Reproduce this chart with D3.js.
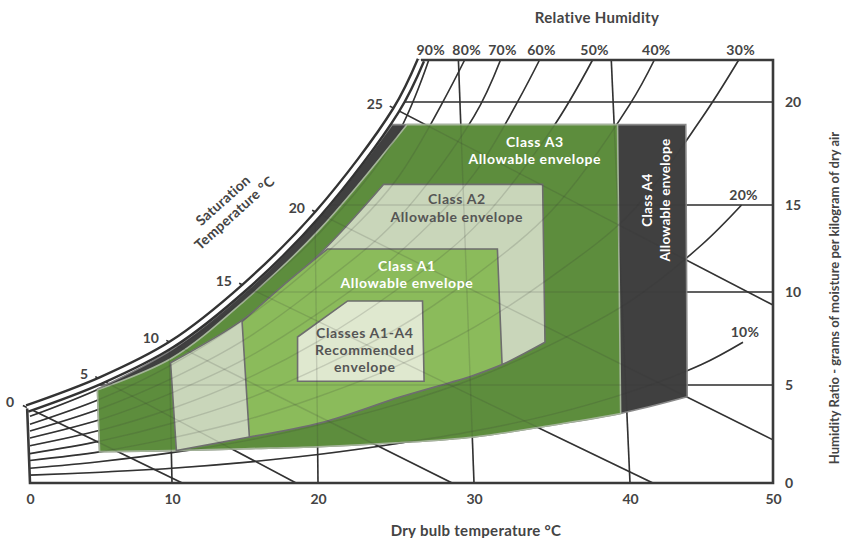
<!DOCTYPE html>
<html>
<head>
<meta charset="utf-8">
<script src="https://cdn.jsdelivr.net/npm/d3@7"></script>
<style>
body { margin: 0; background: #fff; }
text { font-family: Lato, "Open Sans", sans-serif; font-weight: 700; }
</style>
</head>
<body>
<svg width="842" height="538"></svg>
<script>
// axis ticks
const dryTicks = [0, 10, 20, 30, 40, 50];
const wTicks = [0, 5, 10, 15, 20];
const satTicks = [0, 5, 10, 15, 20, 25];

// saturation curve [dry bulb °C, g/kg]
const satCurve = [[-0.2, 3.8], [5, 5.25], [10, 7.2], [15, 10.3], [20, 14.5], [25, 19.6], [26.6, 22]];

// relative humidity curves
const rhNames = ["90%", "80%", "70%", "60%", "50%", "40%", "30%", "20%", "10%"];
const rhCurves = [
    [[0, 3.4], [5, 4.85], [10, 6.85], [15, 9.6], [20, 13.3], [25, 18.3], [27.1, 22]],
    [[0, 3.0], [5, 4.3], [10, 6.1], [15, 8.55], [20, 11.8], [25, 16.2], [29.4, 22]],
    [[0, 2.65], [5, 3.8], [10, 5.35], [15, 7.45], [20, 10.3], [25, 14.1], [30, 19.3], [31.7, 22]],
    [[0, 2.3], [5, 3.25], [10, 4.6], [15, 6.4], [20, 8.85], [25, 12.1], [30, 16.5], [34.2, 22]],
    [[0, 1.9], [5, 2.7], [10, 3.8], [15, 5.3], [20, 7.35], [25, 10.1], [30, 13.7], [35, 18.7], [37.6, 22]],
    [[0, 1.5], [5, 2.15], [10, 3.05], [15, 4.25], [20, 5.9], [25, 8.0], [30, 10.9], [35, 14.7], [40, 19.9], [41.7, 22]],
    [[0, 1.15], [5, 1.6], [10, 2.3], [15, 3.2], [20, 4.4], [25, 6.0], [30, 8.1], [35, 10.9], [40, 14.5], [45, 19.2], [47.6, 22]],
    [[0, 0.75], [5, 1.1], [10, 1.55], [15, 2.15], [20, 2.95], [25, 4.0], [30, 5.35], [35, 7.2], [40, 9.5], [45, 12.7], [47.8, 15]],
    [[0, 0.4], [5, 0.55], [10, 0.75], [15, 1.05], [20, 1.45], [25, 2.0], [30, 2.65], [35, 3.5], [40, 4.65], [45, 6.1], [47.9, 7.3]]
];

// wet bulb lines (start near saturation, end on frame)
const wetStart = [[-0.5, 3.95], [4.6, 5.45], [9.6, 7.4], [14.6, 10.5], [19.6, 14.7], [24.6, 19.8]];
const wetEnd = [[10.7, 0], [18.5, 0], [28.6, 0], [41.6, 0], [50, 2.2], [50, 9.3]];

// dry bulb lines
const dryLines = [[[10, 0], [9.8, 7.1]], [[20, 0], [19.8, 14.3]], [[30, 0], [29.0, 22]], [[40, 0], [38.8, 22]]];

// humidity ratio lines (start on saturation curve)
const wLineStart = [4.1, 14.4, 20.3, 25.3];

// envelopes
const a4Upper = [[4.75, 4.8], [10, 6.9], [15, 10.0], [20, 14.2], [24.75, 18.9]];
const a4Right = [[43.9, 18.9], [44.0, 4.4]];
const a3Upper = [[4.75, 4.75], [10, 6.45], [15, 9.55], [20, 13.5], [25.7, 18.9]];
const a3Right = [[39.2, 18.9], [39.4, 3.55]];
const lowEdge = [[4.9, 1.6], [10, 1.65], [15, 1.75], [20, 1.85], [25, 2.05], [30, 2.35], [35, 2.95], [39.4, 3.55], [44, 4.4]];
const a2Upper = [[9.9, 6.2], [15, 8.6], [20, 12.1], [24.2, 16.0]];
const a2Right = [[34.4, 16.0], [34.55, 7.3]];
const rh20Edge = [[10.3, 1.65], [15.3, 2.35], [20.3, 3.1], [25.3, 4.4], [29.9, 5.5], [31.8, 6.1], [34.55, 7.3]];
const a1Upper = [[14.8, 8.4], [17.5, 10.3], [20.6, 12.47]];
const a1Right = [[31.5, 12.47], [31.8, 6.1]];
const recBox = [[18.6, 7.58], [21.9, 9.52], [26.7, 9.52], [26.8, 5.2], [18.6, 5.2]];

const svg = d3.select("svg");

const x = d3.scaleLinear()
    .domain(dryTicks)
    .range([30, 172, 318, 474, 630, 773]);

const y = d3.scaleLinear()
    .domain([0, 5, 10, 15, 20, 22])
    .range([483, 385, 292, 205, 102, 60]);

const straight = d3.line().x(d => x(d[0])).y(d => y(d[1]));
const smooth = d3.line().x(d => x(d[0])).y(d => y(d[1])).curve(d3.curveCatmullRom.alpha(0.5));

function joinPath(parts) {
    return parts.map((p, i) => i ? p.replace(/^M/, "L") : p).join("") + "Z";
}

const ink = "#333";

function drawGrid(g) {
    g.selectAll(".rh").data(rhCurves).enter().append("path")
        .attr("d", smooth);
    g.selectAll(".wb").data(wetStart).enter().append("path")
        .attr("d", (d, i) => straight([d, wetEnd[i]]));
    g.selectAll(".db").data(dryLines).enter().append("path")
        .attr("d", straight);
    g.selectAll(".wl").data(wTicks.slice(1)).enter().append("path")
        .attr("d", (d, i) => straight([[wLineStart[i], d], [50, d]]));
    g.selectAll("path").attr("fill", "none");
}

const grid = svg.append("g").attr("stroke", ink).attr("stroke-width", 1.6);
drawGrid(grid);

// envelopes
const regions = [
    { d: joinPath([smooth(a4Upper), straight(a4Right), smooth(lowEdge.slice().reverse())]), fill: "#404040", stroke: "#8a8a8a" },
    { d: joinPath([smooth(a3Upper), straight(a3Right), smooth(lowEdge.filter(p => p[0] <= 39.4).reverse())]), fill: "#5d8d3d", stroke: "#a5b59a" },
    { d: joinPath([smooth(a2Upper), straight(a2Right), smooth(rh20Edge.slice().reverse())]), fill: "#c9d6ba", stroke: "#6e6e6e" },
    { d: joinPath([smooth(a1Upper), straight(a1Right), smooth(rh20Edge.filter(p => p[0] >= 15.3 && p[0] <= 31.8).reverse())]), fill: "#8bbb5b", stroke: "#6e6e6e" },
    { d: straight(recBox) + "Z", fill: "#dfe8cf", stroke: "#6e6e6e" }
];

svg.append("g").selectAll("path").data(regions).enter().append("path")
    .attr("d", d => d.d)
    .attr("fill", d => d.fill)
    .attr("stroke", d => d.stroke)
    .attr("stroke-width", 1.6);

// faint grid showing through the envelopes
const faint = svg.append("g").attr("stroke", ink).attr("stroke-width", 1.4).attr("stroke-opacity", 0.16);
drawGrid(faint);

// saturation curve, double line
svg.append("path").attr("d", smooth(satCurve)).attr("fill", "none")
    .attr("stroke", ink).attr("stroke-width", 9);
svg.append("path").attr("d", smooth(satCurve)).attr("fill", "none")
    .attr("stroke", "#fff").attr("stroke-width", 4.2);

// frame
svg.append("path")
    .attr("d", straight([satCurve[satCurve.length - 1], [50, 22], [50, 0], [0, 0], [-0.2, 3.8]]))
    .attr("fill", "none").attr("stroke", "#3a3a3a").attr("stroke-width", 2.6)
    .attr("stroke-linejoin", "miter");

// axes
const bottomAxis = svg.append("g")
    .attr("transform", `translate(0,${y(0)})`)
    .call(d3.axisBottom(x).tickValues(dryTicks).tickSize(0).tickPadding(11));
const rightAxis = svg.append("g")
    .attr("transform", `translate(${x(50)},0)`)
    .call(d3.axisRight(y).tickValues(wTicks).tickSize(0).tickPadding(12));
[bottomAxis, rightAxis].forEach(a => {
    a.select(".domain").remove();
    a.attr("font-size", 14).style("color", "#444");
});

// saturation temperature labels
svg.append("g").selectAll("text").data(satTicks).enter().append("text")
    .attr("x", (d, i) => x(satCurve[i][0]) - 13)
    .attr("y", (d, i) => y(satCurve[i][1]) - 6)
    .attr("dy", "0.35em")
    .attr("text-anchor", "end")
    .attr("font-size", 14)
    .attr("fill", "#444")
    .text(d => d);

// RH labels at curve ends
svg.append("g").selectAll("text").data(rhCurves).enter().append("text")
    .attr("x", d => x(d[d.length - 1][0]) + 2)
    .attr("y", d => y(d[d.length - 1][1]) - 10)
    .attr("dy", "0.35em")
    .attr("text-anchor", "middle")
    .attr("font-size", 14)
    .attr("letter-spacing", 0.3)
    .attr("fill", "#444")
    .text((d, i) => rhNames[i]);

// titles
svg.append("text").attr("x", 597).attr("y", 18).attr("dy", "0.35em")
    .attr("text-anchor", "middle").attr("font-size", 15).attr("letter-spacing", 0.3).attr("fill", "#444")
    .text("Relative Humidity");
svg.append("text").attr("x", 476).attr("y", 531).attr("dy", "0.35em")
    .attr("text-anchor", "middle").attr("font-size", 15).attr("letter-spacing", 0.3).attr("fill", "#444")
    .text("Dry bulb temperature °C");
svg.append("text").attr("transform", "translate(834,298) rotate(-90)").attr("dy", "0.35em")
    .attr("text-anchor", "middle").attr("font-size", 13).attr("fill", "#444")
    .text("Humidity Ratio - grams of moisture per kilogram of dry air");

const satTitle = svg.append("g").attr("transform", "translate(229,207) rotate(-42)")
    .attr("font-size", 14).attr("letter-spacing", 0.3).attr("fill", "#444").attr("text-anchor", "middle");
satTitle.append("text").attr("y", -4).text("Saturation");
satTitle.append("text").attr("y", 13).text("Temperature °C");

// envelope labels [T, W, text, colour]
const envLabels = [
    [33.9, 18.06, "Class A3", "#fff"], [33.9, 17.22, "Allowable envelope", "#fff"],
    [28.9, 15.29, "Class A2", "#555"], [28.9, 14.31, "Allowable envelope", "#555"],
    [25.7, 11.49, "Class A1", "#fff"], [25.7, 10.52, "Allowable envelope", "#fff"],
    [23.0, 7.8, "Classes A1-A4", "#555"], [23.0, 6.88, "Recommended", "#555"], [23.0, 5.97, "envelope", "#555"]
];
svg.append("g").selectAll("text").data(envLabels).enter().append("text")
    .attr("x", d => x(d[0])).attr("y", d => y(d[1]))
    .attr("dy", "0.35em").attr("text-anchor", "middle")
    .attr("font-size", 14).attr("letter-spacing", 0.6).attr("fill", d => d[3])
    .text(d => d[2]);

const a4Labels = [[41.2, 15.24, "Class A4"], [42.45, 15.24, "Allowable envelope"]];
svg.append("g").selectAll("text").data(a4Labels).enter().append("text")
    .attr("transform", d => `translate(${x(d[0])},${y(d[1])}) rotate(-90)`)
    .attr("dy", "0.35em").attr("text-anchor", "middle")
    .attr("font-size", 13.5).attr("letter-spacing", 0.3).attr("fill", "#fff")
    .text(d => d[2]);
</script>
</body>
</html>
